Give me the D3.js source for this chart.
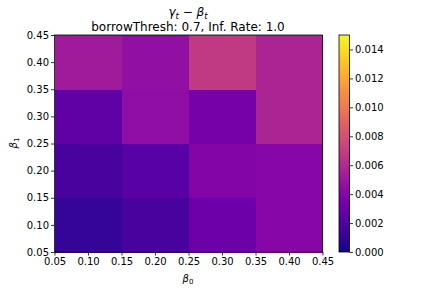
<!DOCTYPE html>
<html>
<head>
<meta charset="utf-8">
<script src="https://cdn.jsdelivr.net/npm/d3@7"></script>
<style>
  body { margin: 0; background: white; }
  text { font-family: "DejaVu Sans", sans-serif; }
</style>
</head>
<body>
<svg id="chart"></svg>
<script>
// cell edges for beta_0 (x) and beta_1 (y)
const xEdges = [0.05, 0.15, 0.25, 0.35, 0.45];
const yEdges = [0.05, 0.15, 0.25, 0.35, 0.45];
// values row by row, bottom row first
const row0 = [0.0011, 0.0017, 0.0031, 0.0041];
const row1 = [0.0017, 0.0023, 0.0039, 0.0041];
const row2 = [0.0026, 0.0045, 0.0035, 0.0057];
const row3 = [0.0052, 0.0046, 0.0068, 0.0057];
const rows = [row0, row1, row2, row3];
const tickVals = [0.05, 0.10, 0.15, 0.20, 0.25, 0.30, 0.35, 0.40, 0.45];
const cbarTicks = [0, 0.002, 0.004, 0.006, 0.008, 0.010, 0.012, 0.014];
const vmin = 0, vmax = 0.015;

const W = 432, H = 288;
const m = {left: 54.5, right: 322.5, top: 35, bottom: 252};

const svg = d3.select('#chart').attr('width', W).attr('height', H);

const x = d3.scaleLinear().domain([0.05, 0.45]).range([m.left, m.right]);
const y = d3.scaleLinear().domain([0.05, 0.45]).range([m.bottom, m.top]);
const color = d3.scaleSequential(d3.interpolatePlasma).domain([vmin, vmax]);

// cells
const cells = [];
rows.forEach((r, j) => r.forEach((v, i) => cells.push({i, j, v})));
svg.append('g').selectAll('rect')
  .data(cells).enter()
  .append('rect')
    .attr('x', d => x(xEdges[d.i]))
    .attr('y', d => y(yEdges[d.j + 1]))
    .attr('width', d => x(xEdges[d.i + 1]) - x(xEdges[d.i]) + 0.5)
    .attr('height', d => y(yEdges[d.j]) - y(yEdges[d.j + 1]) + 0.5)
    .attr('fill', d => color(d.v))
    .attr('shape-rendering', 'crispEdges');

// axes
const xAxis = d3.axisBottom(x).tickValues(tickVals).tickFormat(d3.format('.2f')).tickSize(3.5).tickPadding(2);
const yAxis = d3.axisLeft(y).tickValues(tickVals).tickFormat(d3.format('.2f')).tickSize(3.5).tickPadding(2);
const gx = svg.append('g').attr('transform', `translate(0,${m.bottom})`).call(xAxis);
const gy = svg.append('g').attr('transform', `translate(${m.left},0)`).call(yAxis);
[gx, gy].forEach(g => {
  g.select('.domain').remove();
  g.selectAll('text').attr('font-size', 10).attr('fill', '#000').style('font-family', 'DejaVu Sans');
  g.selectAll('line').attr('stroke', '#000').attr('stroke-width', 0.8);
});

// frame
svg.append('rect')
  .attr('x', m.left).attr('y', m.top)
  .attr('width', m.right - m.left).attr('height', m.bottom - m.top)
  .attr('fill', 'none').attr('stroke', '#000').attr('stroke-width', 0.8);

// titles
const t1 = svg.append('text').attr('x', 188).attr('y', 16).attr('text-anchor', 'middle')
  .attr('font-size', 12);
t1.append('tspan').attr('font-style', 'italic').text('γ');
t1.append('tspan').attr('font-style', 'italic').attr('font-size', 8.5).attr('dy', 3).text('t');
t1.append('tspan').attr('dy', -3).text(' − ');
t1.append('tspan').attr('font-style', 'italic').text('β');
t1.append('tspan').attr('font-style', 'italic').attr('font-size', 8.5).attr('dy', 3).text('t');

svg.append('text').attr('x', 188).attr('y', 30.5).attr('text-anchor', 'middle')
  .attr('font-size', 12).text('borrowThresh: 0.7, Inf. Rate: 1.0');

// axis labels
const xl = svg.append('text').attr('x', 188).attr('y', 282).attr('text-anchor', 'middle').attr('font-size', 10);
xl.append('tspan').attr('font-style', 'italic').text('β');
xl.append('tspan').attr('font-size', 7).attr('dy', 2).text('0');

const yl = svg.append('text').attr('transform', 'translate(17,143) rotate(-90)').attr('text-anchor', 'middle').attr('font-size', 10);
yl.append('tspan').attr('font-style', 'italic').text('β');
yl.append('tspan').attr('font-size', 7).attr('dy', 2).text('1');

// colorbar
const cb = {x: 339, w: 10.5};
const cy = d3.scaleLinear().domain([vmin, vmax]).range([m.bottom, m.top]);
const defs = svg.append('defs');
const grad = defs.append('linearGradient').attr('id', 'cgrad')
  .attr('x1', 0).attr('y1', 1).attr('x2', 0).attr('y2', 0);
d3.range(0, 1.0001, 0.05).forEach(t => {
  grad.append('stop').attr('offset', t).attr('stop-color', d3.interpolatePlasma(t));
});
svg.append('rect')
  .attr('x', cb.x).attr('y', m.top).attr('width', cb.w).attr('height', m.bottom - m.top)
  .attr('fill', 'url(#cgrad)').attr('stroke', '#000').attr('stroke-width', 0.8);

const cAxis = d3.axisRight(cy).tickValues(cbarTicks).tickFormat(d3.format('.3f')).tickSize(3.5).tickPadding(2);
const gc = svg.append('g').attr('transform', `translate(${cb.x + cb.w},0)`).call(cAxis);
gc.select('.domain').remove();
gc.selectAll('text').attr('font-size', 10).attr('fill', '#000').style('font-family', 'DejaVu Sans');
gc.selectAll('line').attr('stroke', '#000').attr('stroke-width', 0.8);
</script>
</body>
</html>
